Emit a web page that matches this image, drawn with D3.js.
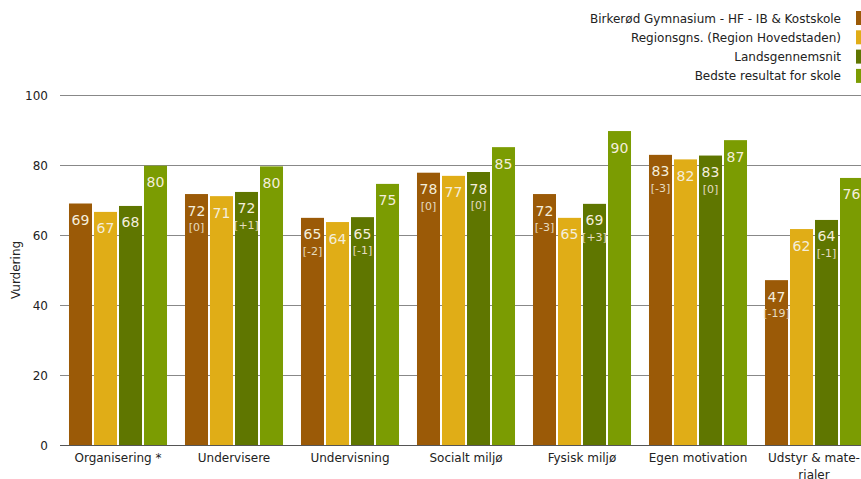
<!DOCTYPE html>
<html><head><meta charset="utf-8">
<script src="https://cdn.jsdelivr.net/npm/d3@7"></script>
<style>body{margin:0;background:#fff}svg{display:block;font-family:"DejaVu Sans",Verdana,sans-serif}</style>
</head><body><div id="c"></div>
<script>
const categories = ["Organisering *","Undervisere","Undervisning","Socialt miljø","Fysisk miljø","Egen motivation","Udstyr & mate-|rialer"];
const seriesNames = ["Birkerød Gymnasium - HF - IB & Kostskole","Regionsgns. (Region Hovedstaden)","Landsgennemsnit","Bedste resultat for skole"];
const schoolVals = [69.0, 71.7, 64.9, 77.8, 71.7, 82.9, 47.1];
const regionVals = [66.6, 71.1, 63.7, 76.9, 64.9, 81.6, 61.7];
const nationVals = [68.3, 72.3, 65.1, 78.0, 68.9, 82.7, 64.3];
const bestVals   = [79.8, 79.6, 74.6, 85.1, 89.7, 87.1, 76.3];
const schoolDiff = [null, "[0]", "[-2]", "[0]", "[-3]", "[-3]", "[-19]"];
const nationDiff = [null, "[+1]", "[-1]", "[0]", "[+3]", "[0]", "[-1]"];
const yTicks = [0,20,40,60,80,100];
const colors = ["#9b5a07","#e0ad17","#5f7600","#7b9c02"];

const W=861,H=479;
const svg=d3.select("#c").append("svg").attr("width",W).attr("height",H);
const series=[schoolVals,regionVals,nationVals,bestVals];
const diffs=[schoolDiff,null,nationDiff,null];

const x=d3.scaleBand().domain(categories).range([60,872]).paddingInner(0.155).paddingOuter(0.0775);
const xs=d3.scaleBand().domain(d3.range(4)).range([0,x.bandwidth()]).paddingInner(0.08).paddingOuter(0);
const y=d3.scaleLinear().domain([0,100]).range([445,95]);

// grid
svg.append("g").selectAll("line").data(yTicks).join("line")
 .attr("x1",60).attr("x2",W).attr("y1",d=>y(d)+0.5).attr("y2",d=>y(d)+0.5)
 .attr("stroke",d=>d===0?"#555":"#888").attr("stroke-width",1);
svg.append("g").selectAll("text").data(yTicks).join("text")
 .attr("x",48).attr("y",d=>y(d)+4.5).attr("text-anchor","end")
 .attr("font-size",12).attr("fill","#222").text(d=>d);
svg.append("text").attr("transform","translate(20,270) rotate(-90)")
 .attr("text-anchor","middle").attr("font-size",12).attr("fill","#222").text("Vurdering");

// bars
categories.forEach((c,i)=>{
  series.forEach((s,j)=>{
    const bx=x(c)+xs(j), bw=xs.bandwidth(), v=s[i];
    svg.append("rect").attr("x",bx).attr("y",y(v)).attr("width",bw).attr("height",y(0)-y(v)).attr("fill",colors[j]);
    svg.append("text").attr("x",bx+bw/2).attr("y",y(v)+21.5).attr("text-anchor","middle")
      .attr("font-size",14).attr("fill","#f4eedb").text(Math.round(v));
    if(diffs[j] && diffs[j][i]){
      svg.append("text").attr("x",bx+bw/2).attr("y",y(v)+37).attr("text-anchor","middle")
        .attr("font-size",11).attr("fill","#e6dcc0").text(diffs[j][i]);
    }
  });
  const lines=c.split("|");
  lines.forEach((l,k)=>{
    svg.append("text").attr("x",x(c)+x.bandwidth()/2).attr("y",462+k*17).attr("text-anchor","middle")
      .attr("font-size",12).attr("fill","#222").text(l);
  });
});

// legend
const lg=svg.append("g");
seriesNames.forEach((n,j)=>{
  const cy=18+j*19.3;
  lg.append("rect").attr("x",856).attr("y",cy-7).attr("width",10).attr("height",14).attr("fill",colors[j]);
  lg.append("text").attr("x",841).attr("y",cy+4.5).attr("text-anchor","end").attr("font-size",12).attr("fill","#222").text(n);
});
</script></body></html>
